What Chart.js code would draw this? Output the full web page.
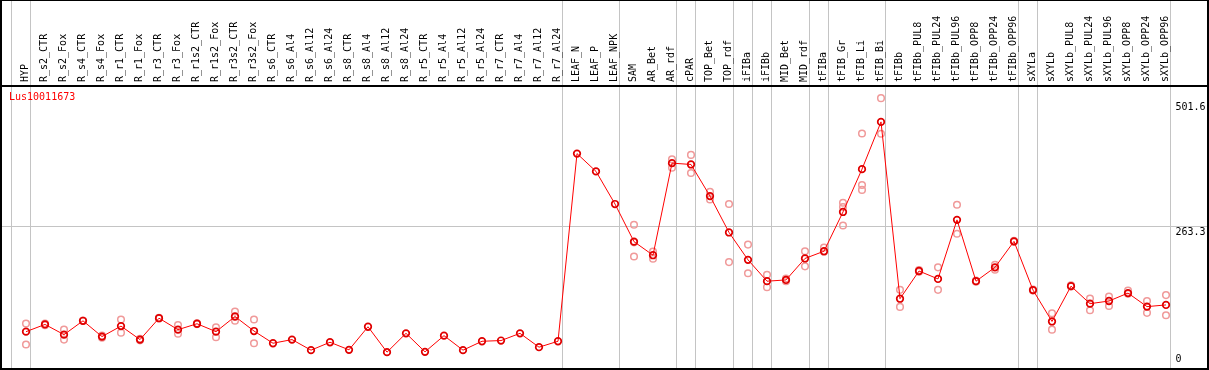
<!DOCTYPE html>
<html><head><meta charset="utf-8">
<script src="https://cdn.jsdelivr.net/npm/chart.js@4.4.0/dist/chart.umd.min.js"></script>
<style>html,body{margin:0;padding:0;background:#fff;overflow:hidden}</style>
</head><body>
<canvas id="c" width="1209" height="370"></canvas>
<script>
const categories = ["HYP","R_s2_CTR","R_s2_Fox","R_s4_CTR","R_s4_Fox","R_r1_CTR","R_r1_Fox","R_r3_CTR","R_r3_Fox","R_r1s2_CTR","R_r1s2_Fox","R_r3s2_CTR","R_r3s2_Fox","R_s6_CTR","R_s6_Al4","R_s6_Al12","R_s6_Al24","R_s8_CTR","R_s8_Al4","R_s8_Al12","R_s8_Al24","R_r5_CTR","R_r5_Al4","R_r5_Al12","R_r5_Al24","R_r7_CTR","R_r7_Al4","R_r7_Al12","R_r7_Al24","LEAF_N","LEAF_P","LEAF_NPK","SAM","AR_Bet","AR_rdf","cPAR","TOP_Bet","TOP_rdf","iFIBa","iFIBb","MID_Bet","MID_rdf","tFIBa","tFIB_Gr","tFIB_Li","tFIB_Bi","tFIBb","tFIBb_PUL8","tFIBb_PUL24","tFIBb_PUL96","tFIBb_OPP8","tFIBb_OPP24","tFIBb_OPP96","sXYLa","sXYLb","sXYLb_PUL8","sXYLb_PUL24","sXYLb_PUL96","sXYLb_OPP8","sXYLb_OPP24","sXYLb_OPP96"];

const meanValues = [63.6,77.4,57.9,84.3,54.2,74.2,48.5,89.3,67.4,78.7,63.6,92.5,64.8,41.5,48.5,28.3,43.4,28.9,73.0,24.5,60.4,25.1,56.0,28.3,45.3,46.6,60.4,34.0,45.3,
  403.3,369.4,307.1,235.3,209.5,385.1,382.6,322.2,252.9,200.6,159.9,162.3,203.3,217.1,292.0,373.7,463.8,
  126.5,179.3,164.2,276.9,159.9,186.3,235.9,142.9,83.1,150.4,117.0,122.1,137.2,111.4,114.6];

const repHigh = [79.3,79,67.4,85,56,86.8,50,90,76.1,79.5,71.7,101.9,86.8,null,null,null,null,null,null,null,null,null,null,null,null,null,null,null,null,
  null,null,null,267.5,216.5,392.6,400.8,330.3,307.1,229.7,172.3,165,217.1,224.0,309.5,441.7,509.1,
  143.4,181,186.3,305.8,161,191.3,237,144,98.8,152,127.0,130.8,142.1,122.1,133.4];

const repLow = [39.0,76,48.5,84,52,61.7,47,89,59.8,78,52.8,84.3,41.5,null,null,null,null,null,null,null,null,null,null,null,null,null,null,null,null,
  null,null,null,207.0,202.6,376.2,366.2,315.8,196.3,175.0,148.5,160,188.2,216,266.1,334.1,441.1,
  110.8,178,143.4,250.4,159,181.8,235,142,67.4,150,104.4,112.7,136,99.5,94.9];

const repExtra = [null,null,null,null,null,null,null,null,null,null,null,null,null,null,null,null,null,null,null,null,null,null,null,null,null,null,null,null,null,
  null,null,null,234,null,null,null,null,null,null,null,null,null,null,301.4,343.5,null,
  null,null,null,null,null,null,null,null,null,null,null,null,null,null,null];

const yTickValues = [0, 263.3, 501.6];
const yTickLabels = ["0", "263.3", "501.6"];
const groupEndIndices = [-1, 0, 28, 31, 34, 35, 37, 38, 39, 41, 42, 45, 52, 53, 60];
const geneName = "Lus10011673";

const FONT = '10px "DejaVu Sans Mono", "Liberation Mono", monospace';

const framePlugin = {
  id: 'frame',
  beforeDraw(chart) {
    const {ctx} = chart;
    const x = chart.scales.x, y = chart.scales.y;
    const W = chart.width, H = chart.height;
    const p0 = x.getPixelForValue(0);
    const step = x.getPixelForValue(1) - p0;
    ctx.save();
    ctx.fillStyle = '#c4c4c4';
    groupEndIndices.forEach(i => {
      const px = Math.floor(p0 + step * (i + 0.24));
      ctx.fillRect(px, 0, 1, H);
    });
    const gy = Math.floor(y.getPixelForValue(yTickValues[1]));
    ctx.fillRect(0, gy, W, 1);
    ctx.restore();
  },
  afterDraw(chart) {
    const {ctx, chartArea} = chart;
    const y = chart.scales.y;
    const W = chart.width, H = chart.height;
    ctx.save();
    ctx.fillStyle = '#000';
    ctx.fillRect(0, 0, W, 1);
    ctx.fillRect(0, chartArea.top, W, 2);
    ctx.fillRect(0, H - 2, W, 2);
    ctx.fillRect(0, 0, 2, H);
    ctx.fillRect(W - 2, 0, 2, H);
    ctx.font = FONT;
    ctx.textAlign = 'left';
    yTickValues.forEach((v, i) => {
      const py = y.getPixelForValue(v);
      if (v === 0) {
        ctx.textBaseline = 'bottom';
        ctx.fillText(yTickLabels[i], chartArea.right, py - 1);
      } else {
        ctx.textBaseline = 'top';
        ctx.fillText(yTickLabels[i], chartArea.right, py + 0.5);
      }
    });
    ctx.fillStyle = '#ff0000';
    ctx.textBaseline = 'middle';
    ctx.fillText(geneName, 9, chartArea.top + 12);
    ctx.restore();
  }
};

const repStyle = {
  showLine: false,
  borderColor: '#f09a9a',
  backgroundColor: 'rgba(0,0,0,0)',
  pointBorderColor: '#f09a9a',
  pointBackgroundColor: 'rgba(0,0,0,0)',
  pointRadius: 3.3,
  pointBorderWidth: 1.5,
  pointHoverRadius: 3.3
};

new Chart(document.getElementById('c'), {
  type: 'line',
  data: {
    labels: categories,
    datasets: [
      {
        label: geneName,
        data: meanValues,
        borderColor: '#ff0000',
        borderWidth: 1,
        backgroundColor: 'rgba(0,0,0,0)',
        pointBorderColor: '#e00000',
        pointBackgroundColor: 'rgba(0,0,0,0)',
        pointRadius: 3.3,
        pointBorderWidth: 1.7,
        pointHoverRadius: 3.3,
        tension: 0
      },
      Object.assign({label: 'rep1', data: repHigh}, repStyle),
      Object.assign({label: 'rep2', data: repLow}, repStyle),
      Object.assign({label: 'rep3', data: repExtra}, repStyle)
    ]
  },
  options: {
    responsive: false,
    animation: false,
    events: [],
    layout: {padding: {left: 16.5, right: 0, top: 0, bottom: 2}},
    plugins: {legend: {display: false}, tooltip: {enabled: false}, title: {display: false}},
    scales: {
      x: {
        type: 'category',
        position: 'top',
        offset: true,
        grid: {display: false, drawTicks: false},
        border: {display: false},
        ticks: {
          autoSkip: false,
          minRotation: 90,
          maxRotation: 90,
          padding: 3,
          labelOffset: 11.5,
          color: '#000',
          font: {family: '"DejaVu Sans Mono", "Liberation Mono", monospace', size: 10}
        },
        afterFit(scale) { scale.height = 85; }
      },
      y: {
        type: 'linear',
        position: 'right',
        min: 0,
        max: 534.2,
        grid: {display: false, drawTicks: false},
        border: {display: false},
        ticks: {display: false},
        afterBuildTicks(scale) { scale.ticks = yTickValues.map(v => ({value: v})); },
        afterFit(scale) { scale.width = 33.5; }
      }
    }
  },
  plugins: [framePlugin]
});
</script>
</body></html>
